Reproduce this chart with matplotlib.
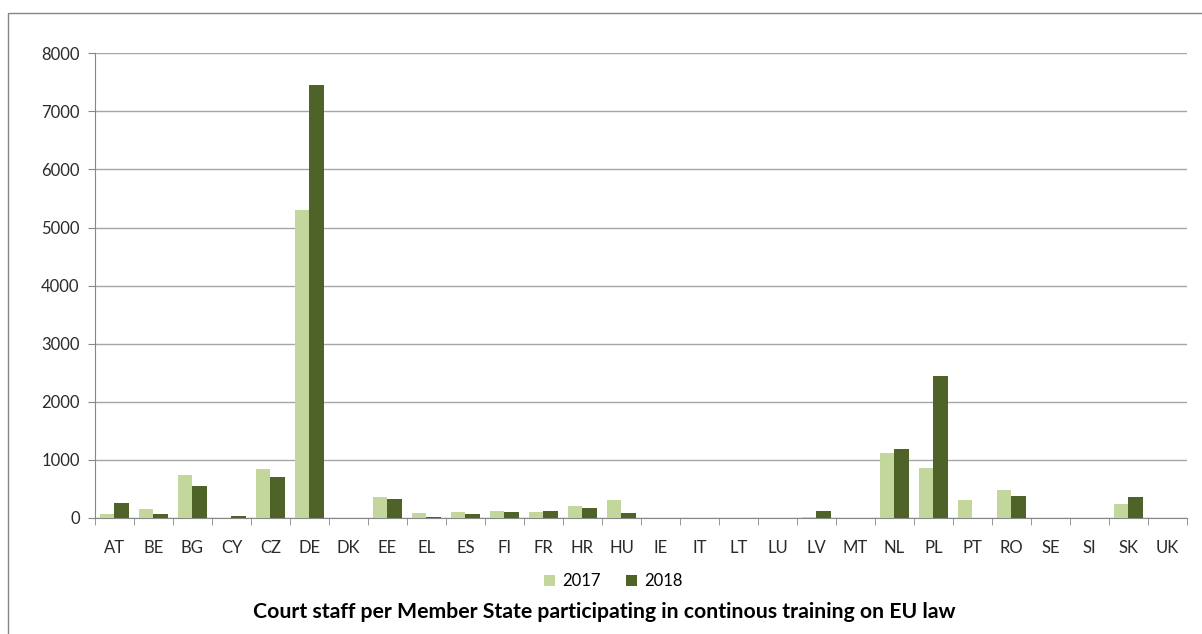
import numpy as np
import matplotlib.pyplot as plt
from matplotlib.patches import Rectangle

countries = ['AT', 'BE', 'BG', 'CY', 'CZ', 'DE', 'DK', 'EE', 'EL', 'ES', 'FI', 'FR', 'HR', 'HU',
             'IE', 'IT', 'LT', 'LU', 'LV', 'MT', 'NL', 'PL', 'PT', 'RO', 'SE', 'SI', 'SK', 'UK']
staff_2017 = [70, 155, 740, 0, 840, 5300, 0, 360, 80, 105, 120, 100, 210, 305,
              0, 0, 0, 0, 12, 0, 1110, 855, 305, 480, 0, 0, 245, 0]
staff_2018 = [250, 65, 545, 35, 705, 7450, 0, 320, 17, 65, 100, 120, 180, 80,
              0, 0, 0, 0, 120, 0, 1180, 2445, 0, 375, 0, 0, 355, 0]

light = '#c3d69b'
dark = '#4f6228'
font = 'Lato'

fig = plt.figure(figsize=(12.02, 6.34), dpi=100)
ax = fig.add_axes([0.079, 0.183, 0.9085, 0.733])

x = np.arange(len(countries))
w = 0.37
ax.bar(x - w / 2, staff_2017, w, color=light, label='2017', zorder=3)
ax.bar(x + w / 2, staff_2018, w, color=dark, label='2018', zorder=3)

ax.set_xlim(-0.5, len(countries) - 0.5)
ax.set_ylim(0, 8000)
ax.set_yticks(range(0, 8001, 1000))
ax.yaxis.grid(True, color='#a6a6a6', linewidth=1, zorder=0)
ax.set_xticks(x)
ax.set_xticklabels(countries)
ax.set_xticks(np.arange(-0.5, len(countries)), minor=True)
ax.tick_params(axis='x', which='major', length=0, pad=16)
ax.tick_params(axis='x', which='minor', length=5, color='#868686')
ax.tick_params(axis='y', length=5, color='#868686', pad=6)
for lbl in ax.get_xticklabels() + ax.get_yticklabels():
    lbl.set_fontfamily(font)
    lbl.set_fontsize(12)
    lbl.set_color('#2b2b2b')

for s in ['top', 'right']:
    ax.spines[s].set_visible(False)
ax.spines['left'].set_color('#868686')
ax.spines['bottom'].set_color('#868686')

fig.legend(loc='center', bbox_to_anchor=(0.51, 0.083), ncol=2, frameon=False,
           prop={'family': font, 'size': 12}, handlelength=0.7,
           handleheight=0.7, columnspacing=1.5, handletextpad=0.4)

fig.text(0.503, 0.035, 'Court staff per Member State participating in continous training on EU law',
         ha='center', va='center', fontsize=15.3, fontweight='bold', family=font)

fig.patches.append(Rectangle((0.007, -0.01), 1.0, 0.99, transform=fig.transFigure,
                             fill=False, edgecolor='#868686', linewidth=1))

fig.savefig('out.png', dpi=100)
